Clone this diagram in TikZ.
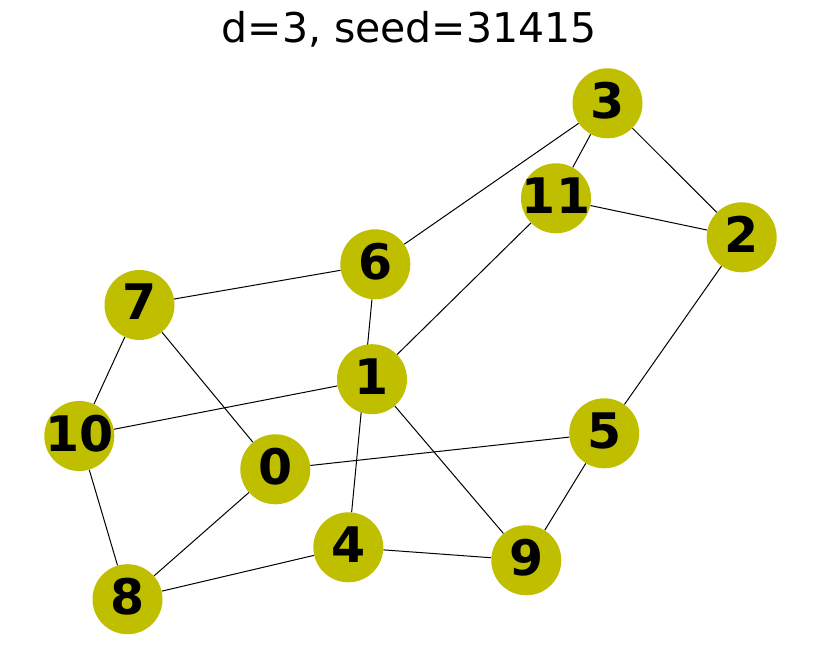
\documentclass[tikz,border=0pt]{standalone}
\usepackage{fontspec}
\setmainfont{DejaVu Sans}
\usetikzlibrary{backgrounds}
\definecolor{nodeolive}{RGB}{191,191,0}
% zero-width label box so every circle keeps the same diameter
\newcommand\vtext[1]{\makebox[0pt]{#1}}
\tikzset{
  vertex/.style={circle, fill=nodeolive, minimum size=70pt, inner sep=0pt,
    text depth=6pt, font=\bfseries\fontsize{49}{49}\selectfont},
  link/.style={draw=black, line width=1pt},
  heading/.style={anchor=base, inner sep=0pt, font=\fontsize{41}{41}\selectfont}
}
\begin{document}
\begin{tikzpicture}[x=1pt, y=-1pt]
  \useasboundingbox (0,0) rectangle (819,661);

  % title
  \node[heading] (title) at (409.2,42.7) {d=3, seed=31415};

  % vertices
  \node[vertex] (n0)  at (275.3,469.3) {\vtext{0}};
  \node[vertex] (n1)  at (372.0,379.2) {\vtext{1}};
  \node[vertex] (n2)  at (741.7,237.3) {\vtext{2}};
  \node[vertex] (n3)  at (607.5,103.3) {\vtext{3}};
  \node[vertex] (n4)  at (348.3,547.3) {\vtext{4}};
  \node[vertex] (n5)  at (604.2,433.3) {\vtext{5}};
  \node[vertex] (n6)  at (375.3,264.3) {\vtext{6}};
  \node[vertex] (n7)  at (139.5,305.0) {\vtext{7}};
  \node[vertex] (n8)  at (127.5,599.2) {\vtext{8}};
  \node[vertex] (n9)  at (526.3,560.3) {\vtext{9}};
  \node[vertex] (n10) at (79.3,436.0)  {\vtext{10}};
  \node[vertex] (n11) at (556.0,198.3) {\vtext{11}};

  % white page and edges, kept beneath the vertices
  \begin{pgfonlayer}{background}
    \fill[white] (0,0) rectangle (819,661);
    \path[link] (n3) -- (n6);
    \path[link] (n3) -- (n11);
    \path[link] (n3) -- (n2);
    \path[link] (n11) -- (n2);
    \path[link] (n11) -- (n1);
    \path[link] (n6) -- (n7);
    \path[link] (n6) -- (n4);
    \path[link] (n7) -- (n10);
    \path[link] (n7) -- (n0);
    \path[link] (n1) -- (n10);
    \path[link] (n1) -- (n9);
    \path[link] (n10) -- (n8);
    \path[link] (n0) -- (n5);
    \path[link] (n0) -- (n8);
    \path[link] (n4) -- (n8);
    \path[link] (n4) -- (n9);
    \path[link] (n9) -- (n5);
    \path[link] (n5) -- (n2);
  \end{pgfonlayer}
\end{tikzpicture}
\end{document}
